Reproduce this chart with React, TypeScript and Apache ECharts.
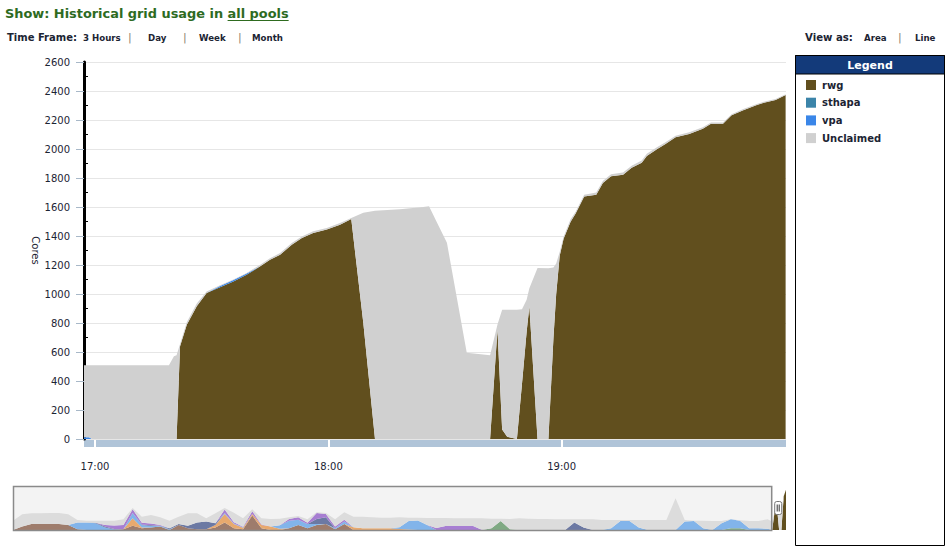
import React, { useEffect, useRef } from 'react';
import * as echarts from 'echarts';

// ---------- main chart data (last 3 hours) ----------
const times = [
  '16:57:10', '16:58:28', '16:59:12', '17:19:00', '17:20:18', '17:20:58', '17:21:52', '17:23:36',
  '17:26:10', '17:28:42', '17:32:09', '17:35:36', '17:39:00', '17:42:24', '17:45:00', '17:47:36',
  '17:50:36', '17:53:12', '17:56:06', '17:59:36', '18:03:00', '18:05:54', '18:09:00', '18:12:00',
  '18:18:24', '18:24:24', '18:25:54', '18:28:00', '18:30:30', '18:35:36', '18:41:36', '18:43:30',
  '18:44:42', '18:46:00', '18:48:30', '18:49:48', '18:51:00', '18:51:42', '18:53:48', '18:56:36',
  '18:57:54', '18:58:36', '18:59:30', '19:00:30', '19:02:18', '19:03:36', '19:05:48', '19:08:54',
  '19:10:36', '19:12:42', '19:15:48', '19:18:00', '19:20:36', '19:21:54', '19:24:30', '19:26:42',
  '19:29:18', '19:32:48', '19:36:18', '19:38:24', '19:41:30', '19:43:42', '19:46:42', '19:50:12',
  '19:52:00', '19:55:00', '19:57:36',
];
const rwg = [
  0, 0, 0, 0, 0, 0, 639, 788, 915, 1007, 1046, 1087, 1133, 1190, 1237, 1271, 1340, 1386, 1421, 1444,
  1478, 1517, 800, 0, 0, 0, 0, 0, 0, 0, 0, 755, 65, 15, 0, 380, 740, 915, 0, 0, 700, 1000, 1264, 1381,
  1499, 1555, 1672, 1685, 1766, 1812, 1823, 1871, 1905, 1952, 1999, 2034, 2081, 2104, 2139, 2174, 2174,
  2232, 2268, 2303, 2319, 2338, 2373,
];
const sthapa = [
  0, 0, 0, 0, 0, 0, 0, 0, 0, 0, 0, 0, 0, 0, 0, 0, 0, 0, 0, 0, 0, 0, 0, 0, 0, 0, 0, 0, 0, 0, 0, 0, 0, 0,
  0, 0, 0, 0, 0, 0, 0, 0, 0, 0, 0, 0, 0, 0, 0, 0, 0, 0, 0, 0, 0, 0, 0, 0, 0, 0, 0, 0, 0, 0, 0, 0, 0,
];
const vpa = [
  12, 12, 0, 0, 0, 0, 0, 0, 0, 0, 10, 10, 8, 0, 0, 0, 0, 0, 0, 0, 0, 0, 0, 0, 0, 0, 0, 0, 0, 0, 0, 0,
  0, 0, 0, 0, 0, 0, 0, 0, 0, 0, 0, 0, 0, 0, 0, 0, 0, 0, 0, 0, 0, 0, 0, 0, 0, 0, 0, 0, 0, 0, 0, 0, 0, 0, 0,
];
const unclaimed = [
  496, 496, 508, 508, 570, 578, 16, 17, 20, 11, 4, 3, 4, 10, 10, 11, 12, 10, 11, 11, 12, 8, 760, 1575,
  1585, 1600, 1605, 1490, 1353, 595, 577, 35, 827, 877, 892, 515, 220, 125, 1180, 1178, 482, 210, 26,
  14, 16, 13, 13, 15, 14, 14, 15, 14, 15, 16, 13, 12, 11, 11, 11, 8, 8, 8, 8, 7, 7, 7, 5,
];
const xRange = ['16:57:10', '19:57:42'];
const hourTicks = ['17:00', '18:00', '19:00'];

// ---------- navigator data (one week, hours from start) ----------
const navHours = [
  0, 2, 4, 6, 8, 10, 12, 14, 16, 18, 20, 22, 24, 26, 28, 30, 32, 34, 36, 38, 40, 42, 44, 46, 48, 50,
  52, 54, 56, 58, 60, 62, 64, 66, 68, 70, 72, 74, 76, 78, 80, 82, 84, 86, 88, 90, 92, 94, 96, 98, 100,
  102, 104, 106, 108, 110, 112, 114, 116, 118, 120, 122, 124, 126, 128, 130, 132, 134, 136, 138, 140,
  142, 144, 146, 148, 150, 152, 154, 156, 158, 160, 162, 164, 165, 165.5, 166, 166.5, 167, 167.5, 168,
];
const navRwg = [
  0, 0, 0, 0, 0, 0, 0, 0, 0, 0, 0, 0, 0, 0, 0, 0, 0, 0, 0, 0, 0, 0, 0, 0, 0, 0, 0, 0, 0, 0, 0, 0, 0, 0,
  0, 0, 0, 0, 0, 0, 0, 0, 0, 0, 0, 0, 0, 0, 0, 0, 0, 0, 0, 0, 0, 0, 0, 0, 0, 0, 0, 0, 0, 0, 0, 0, 0, 0,
  0, 0, 0, 0, 0, 0, 0, 0, 0, 0, 0, 0, 0, 0, 0, 0, 1050, 1450, 0, 0, 2000, 2375,
];
const navBrown = [
  0, 200, 355, 355, 355, 355, 300, 50, 0, 0, 0, 0, 50, 250, 100, 150, 200, 0, 300, 100, 50, 50, 150,
  450, 100, 50, 850, 100, 0, 0, 100, 300, 100, 300, 350, 50, 350, 0, 0, 0, 0, 0, 0, 0, 0, 0, 0, 0, 0,
  0, 0, 0, 0, 0, 0, 0, 0, 0, 0, 0, 0, 0, 0, 0, 0, 0, 0, 0, 0, 0, 0, 0, 0, 0, 0, 0, 0, 0, 0, 0, 0, 0, 0,
  0, 0, 0, 0, 0, 0, 0,
];
const navOrange = [
  0, 0, 0, 0, 0, 0, 0, 0, 0, 0, 0, 0, 0, 450, 50, 0, 0, 0, 0, 0, 0, 0, 150, 500, 250, 80, 100, 200,
  200, 80, 0, 0, 0, 0, 0, 0, 0, 160, 100, 100, 100, 100, 60, 30, 0, 0, 0, 0, 0, 0, 0, 0, 0, 0, 0, 0, 0,
  0, 0, 0, 0, 0, 0, 0, 0, 0, 0, 0, 0, 0, 0, 0, 0, 0, 0, 0, 0, 0, 0, 0, 0, 0, 0, 0, 0, 0, 0, 0, 0, 0,
];
const navGreen = [
  0, 0, 0, 0, 0, 0, 0, 0, 0, 0, 0, 0, 0, 0, 0, 0, 0, 0, 0, 0, 0, 0, 0, 0, 0, 0, 0, 0, 0, 0, 0, 0, 0, 0,
  0, 0, 0, 0, 0, 0, 0, 0, 0, 0, 0, 0, 0, 0, 0, 0, 0, 0, 100, 530, 50, 0, 0, 0, 0, 0, 0, 0, 0, 0, 0, 0,
  0, 0, 0, 0, 0, 0, 0, 0, 0, 0, 0, 0, 100, 100, 0, 0, 0, 0, 0, 0, 0, 0, 0, 0,
];
const navBlue = [
  0, 0, 0, 0, 0, 0, 0, 400, 450, 400, 150, 30, 0, 300, 150, 80, 50, 50, 0, 0, 0, 0, 0, 60, 30, 30, 0,
  0, 0, 200, 450, 300, 250, 50, 0, 50, 150, 0, 0, 0, 0, 0, 100, 500, 560, 300, 0, 0, 0, 0, 0, 0, 0, 0,
  0, 0, 0, 0, 0, 0, 0, 0, 0, 0, 0, 100, 530, 530, 150, 0, 0, 0, 0, 500, 530, 100, 0, 400, 530, 450, 100,
  100, 80, 0, 0, 0, 0, 0, 0, 0,
];
const navSlate = [
  0, 0, 0, 0, 0, 0, 0, 0, 0, 30, 50, 30, 0, 0, 30, 50, 0, 50, 50, 150, 400, 450, 100, 0, 0, 0, 0, 0, 0,
  0, 0, 0, 0, 300, 400, 0, 0, 0, 0, 0, 0, 0, 0, 0, 0, 0, 0, 0, 0, 0, 0, 0, 0, 0, 0, 0, 0, 0, 0, 0, 0,
  450, 150, 0, 0, 0, 0, 0, 0, 0, 0, 0, 0, 0, 0, 0, 0, 0, 0, 0, 0, 0, 0, 0, 0, 0, 0, 0, 0, 0,
];
const navPurple = [
  0, 0, 0, 0, 0, 0, 0, 0, 0, 0, 100, 200, 250, 230, 100, 100, 50, 0, 0, 0, 0, 0, 0, 200, 80, 30, 160,
  30, 0, 0, 100, 150, 80, 350, 200, 100, 100, 0, 0, 0, 0, 0, 0, 0, 0, 0, 120, 235, 235, 235, 235, 0, 0,
  0, 0, 0, 0, 0, 0, 0, 0, 0, 0, 0, 0, 0, 0, 0, 0, 0, 0, 0, 0, 0, 0, 0, 0, 0, 0, 0, 0, 0, 0, 0, 0, 0, 0,
  0, 0, 0,
];
const navUnclaimed = [
  550, 725, 630, 630, 650, 650, 625, 140, 100, 120, 250, 290, 330, 70, 360, 505, 450, 450, 440, 735,
  535, 190, 585, 90, 565, 500, 110, 360, 450, 390, 100, 80, 200, 50, 50, 430, 445, 630, 690, 650, 630,
  630, 590, 200, 170, 410, 590, 475, 455, 455, 455, 690, 570, 140, 600, 690, 670, 650, 650, 630, 630,
  180, 480, 630, 590, 490, 60, 60, 440, 590, 590, 590, 1870, 90, 20, 450, 530, 130, 10, 30, 430, 430,
  550, 508, 10, 10, 1600, 1180, 12, 5,
];
const navWindowStart = 165;

const FONT = 'DejaVu Sans';
const TXT = '#1c2433';

function toMinutes(t: string): number {
  const p = t.split(':').map(Number);
  return p[0] * 60 + p[1] + (p[2] || 0) / 60;
}
function fmt(v: number): string {
  const h = Math.floor(v / 60);
  const m = Math.round(v - h * 60);
  return `${h}:${String(m).padStart(2, '0')}`;
}

let measureCtx: CanvasRenderingContext2D | null = null;
function measure(text: string, font: string): number {
  if (!measureCtx) measureCtx = document.createElement('canvas').getContext('2d');
  if (!measureCtx) return text.length * 7;
  measureCtx.font = font;
  return measureCtx.measureText(text).width;
}
function fitSize(text: string, weight: string, target: number, base: number): number {
  const w = measure(text, `${weight} ${base}px "${FONT}"`);
  return w > 0 ? Math.min(base, (base * target) / w) : base;
}

// stacked area series; value first so that ECharts stacks the y dimension
function areaSeries(opts: { name: string; id?: string; stack: string; xAxisIndex: number; yAxisIndex: number; color: string; xs: number[]; ys: number[] }) {
  return {
    type: 'line',
    id: opts.id,
    name: opts.name,
    xAxisIndex: opts.xAxisIndex,
    yAxisIndex: opts.yAxisIndex,
    stack: opts.stack,
    symbol: 'none',
    showSymbol: false,
    silent: true,
    encode: { x: 1, y: 0 },
    lineStyle: { width: 0 },
    itemStyle: { color: opts.color },
    areaStyle: { color: opts.color, opacity: 1 },
    data: opts.xs.map((x, i) => [opts.ys[i], x]),
  };
}

export default function App() {
  const ref = useRef<HTMLDivElement>(null);
  useEffect(() => {
    if (!ref.current) return;
    const chart = echarts.init(ref.current, undefined, { renderer: 'svg' });
    const xs = times.map(toMinutes);
    const ticks = hourTicks.map(toMinutes);

    const mainDefs = [
      { name: 'rwg', data: rwg, color: '#614f1e' },
      { name: 'sthapa', data: sthapa, color: '#3b84a9' },
      { name: 'vpa', data: vpa, color: '#3a86e8' },
      { name: 'Unclaimed', data: unclaimed, color: '#d0d0d0' },
    ];
    const mainSeries = mainDefs.map((d) =>
      areaSeries({ name: d.name, stack: 'main', xAxisIndex: 0, yAxisIndex: 0, color: d.color, xs, ys: d.data })
    );

    const navDefs = [
      { id: 'nav-rwg', data: navRwg, color: '#614f1e' },
      { id: 'nav-brown', data: navBrown, color: '#9e7c6c' },
      { id: 'nav-orange', data: navOrange, color: '#e8a96e' },
      { id: 'nav-green', data: navGreen, color: '#7fa983' },
      { id: 'nav-blue', data: navBlue, color: '#82b4ea' },
      { id: 'nav-slate', data: navSlate, color: '#6c79a3' },
      { id: 'nav-purple', data: navPurple, color: '#a77ed2' },
      { id: 'nav-unclaimed', data: navUnclaimed, color: '#dcdcdc' },
    ];
    const navSeries = navDefs.map((d) =>
      areaSeries({ name: d.id, id: d.id, stack: 'nav', xAxisIndex: 2, yAxisIndex: 3, color: d.color, xs: navHours, ys: d.data })
    );

    const t = (id: string, text: string, x: number, y: number, size: number, weight: string, fill: string, align = 'left') => ({
      type: 'text',
      id,
      x,
      y,
      z: 5,
      style: { text, fill, font: `${weight} ${size}px "${FONT}"`, textAlign: align, textVerticalAlign: 'middle' },
    });

    const titleA = 'Show: Historical grid usage in ';
    const titleB = 'all pools';
    const titleSize = fitSize(titleA + titleB, 'bold', 284, 14);
    const titleAW = measure(titleA, `bold ${titleSize}px "${FONT}"`);
    const titleBW = measure(titleB, `bold ${titleSize}px "${FONT}"`);
    const tfSize = fitSize('Time Frame:', 'bold', 70, 11);
    const vaSize = fitSize('View as:', 'bold', 48, 11);
    const itemSize = fitSize('Month', 'bold', 31, 10);
    const sep = '#8b7f70';

    const headerGraphics: any[] = [
      t('title', titleA, 5, 13.5, titleSize, 'bold', '#2e6b1f'),
      t('pools', titleB, 5 + titleAW, 13.5, titleSize, 'bold', '#2e6b1f'),
      { type: 'line', id: 'pools-ul', z: 5, shape: { x1: 5 + titleAW, y1: 20.5, x2: 5 + titleAW + titleBW, y2: 20.5 }, style: { stroke: '#2e6b1f', lineWidth: 1 } },
      t('tf', 'Time Frame:', 7, 37.5, tfSize, 'bold', TXT),
      t('tf1', '3 Hours', 83, 37.5, itemSize, 'bold', TXT),
      t('s1', '|', 128, 37.5, 11, 'normal', sep),
      t('tf2', 'Day', 148, 37.5, itemSize, 'bold', TXT),
      t('s2', '|', 183, 37.5, 11, 'normal', sep),
      t('tf3', 'Week', 199, 37.5, itemSize, 'bold', TXT),
      t('s3', '|', 238, 37.5, 11, 'normal', sep),
      t('tf4', 'Month', 252, 37.5, itemSize, 'bold', TXT),
      t('va', 'View as:', 805, 37.5, vaSize, 'bold', TXT),
      t('va1', 'Area', 864, 37.5, itemSize, 'bold', TXT),
      t('s4', '|', 898, 37.5, 11, 'normal', sep),
      t('va2', 'Line', 915, 37.5, itemSize, 'bold', TXT),
      { type: 'rect', id: 'lg-box', z: 1, shape: { x: 795.5, y: 55.5, width: 149, height: 490 }, style: { fill: '#fff', stroke: '#000', lineWidth: 1 } },
      { type: 'rect', id: 'lg-head', z: 2, shape: { x: 795.5, y: 55.5, width: 149, height: 18.5 }, style: { fill: '#133a7a', stroke: '#000', lineWidth: 1 } },
      t('lg-title', 'Legend', 870, 65, 11, 'bold', '#fff', 'center'),
    ];

    const option: any = {
      animation: false,
      textStyle: { fontFamily: FONT },
      legend: {
        data: ['rwg', 'sthapa', 'vpa', 'Unclaimed'],
        orient: 'vertical',
        left: 806,
        top: 80,
        padding: 0,
        icon: 'rect',
        itemWidth: 10,
        itemHeight: 10,
        itemGap: 7.7,
        selectedMode: false,
        z: 10,
        textStyle: { fontFamily: FONT, fontWeight: 'bold', fontSize: 10, color: TXT, lineHeight: 10, padding: [0, 0, 0, 1] },
      },
      grid: [
        { left: 84, top: 62, width: 702, height: 377 },
        { left: 84, top: 440, width: 702, height: 7, show: true, backgroundColor: '#b0c4d8', borderWidth: 0 },
        { left: 13, top: 486, width: 773, height: 44 },
      ],
      xAxis: [
        {
          type: 'value', gridIndex: 0, min: toMinutes(xRange[0]), max: toMinutes(xRange[1]),
          axisLine: { show: false },
          axisTick: { show: false, customValues: ticks },
          splitLine: { show: false },
          axisLabel: { customValues: ticks, formatter: (v: number) => fmt(v), margin: 22, fontSize: 10, color: TXT, fontFamily: FONT },
        },
        {
          type: 'value', gridIndex: 1, min: toMinutes(xRange[0]), max: toMinutes(xRange[1]),
          axisLine: { show: false },
          axisTick: { show: false, customValues: ticks },
          axisLabel: { show: false, customValues: ticks },
          splitLine: { show: true, lineStyle: { color: '#ffffff', width: 2 } },
        },
        {
          type: 'value', gridIndex: 2, min: navHours[0], max: navHours[navHours.length - 1],
          show: false,
        },
      ],
      yAxis: [
        {
          type: 'value', gridIndex: 0, position: 'left', min: 0, max: 2600, interval: 200,
          name: 'Cores', nameLocation: 'middle', nameRotate: -90, nameGap: 44, nameMoveOverlap: false,
          nameTextStyle: { fontSize: 10, color: TXT, fontFamily: FONT },
          axisLine: { show: false },
          axisTick: { show: true, length: 8, lineStyle: { color: '#a8b8c8' } },
          axisLabel: { margin: 14, fontSize: 10, color: TXT, fontFamily: FONT, formatter: (v: number) => String(v) },
          splitLine: { show: true, lineStyle: { color: '#e6e6e6' } },
        },
        {
          type: 'value', gridIndex: 0, position: 'left', offset: 0, min: 0, max: 2600, interval: 200,
          axisLine: { show: true, lineStyle: { color: '#000', width: 3 } },
          axisTick: { show: false, inside: true },
          minorTick: { show: true, splitNumber: 2, length: 4, lineStyle: { color: '#000', width: 1 } },
          axisLabel: { show: false },
          splitLine: { show: false },
        },
        { type: 'value', gridIndex: 1, min: 0, max: 1, show: false },
        { type: 'value', gridIndex: 2, min: 0, max: 2600, show: false },
      ],
      graphic: { elements: headerGraphics },
      series: [...mainSeries, ...navSeries],
    };
    chart.setOption(option);

    // navigator decorations positioned from the navigator's own scale
    const px0 = chart.convertToPixel({ xAxisIndex: 2 } as any, navHours[0]) as number;
    const pxEdge = chart.convertToPixel({ xAxisIndex: 2 } as any, navWindowStart) as number;
    const pxEnd = chart.convertToPixel({ xAxisIndex: 2 } as any, navHours[navHours.length - 1]) as number;
    const yTop = chart.convertToPixel({ yAxisIndex: 3 } as any, 2600) as number;
    const yBot = chart.convertToPixel({ yAxisIndex: 3 } as any, 0) as number;
    if ([px0, pxEdge, pxEnd, yTop, yBot].every((v) => typeof v === 'number' && isFinite(v))) {
      const r = (pxEdge - px0) / (pxEnd - px0);
      const grad = new echarts.graphic.LinearGradient(px0, 0, pxEnd, 0, [
        { offset: 0, color: '#a99d74' },
        { offset: r, color: '#a99d74' },
        { offset: r, color: '#614f1e' },
        { offset: 1, color: '#614f1e' },
      ], true);
      const hx = pxEdge + 6;
      const hy = (yTop + yBot) / 2;
      chart.setOption({
        series: [{ id: 'nav-rwg', areaStyle: { color: grad, opacity: 1 } }],
        graphic: {
          elements: [
            { type: 'rect', id: 'nav-bg', z: 0, shape: { x: px0, y: yTop, width: pxEdge - px0, height: yBot - yTop }, style: { fill: '#f3f3f3' } },
            { type: 'rect', id: 'nav-border', z: 15, shape: { x: px0 + 0.5, y: yTop + 0.5, width: pxEdge - px0 - 1, height: yBot - yTop }, style: { fill: 'none', stroke: '#8a8a8a', lineWidth: 1.5 } },
            { type: 'rect', id: 'nav-handle', z: 20, shape: { x: hx - 3.5, y: hy - 6.5, width: 7, height: 13, r: 2 }, style: { fill: '#fff', stroke: '#777', lineWidth: 1 } },
            { type: 'line', id: 'nav-h1', z: 21, shape: { x1: hx - 1, y1: hy - 3.5, x2: hx - 1, y2: hy + 3.5 }, style: { stroke: '#333', lineWidth: 1 } },
            { type: 'line', id: 'nav-h2', z: 21, shape: { x1: hx + 1, y1: hy - 3.5, x2: hx + 1, y2: hy + 3.5 }, style: { stroke: '#333', lineWidth: 1 } },
          ],
        },
      } as any);
    }

    return () => chart.dispose();
  }, []);
  return <div ref={ref} style={{ position: 'fixed', left: 0, top: 0, width: 950, height: 553, background: '#fff' }} />;
}
